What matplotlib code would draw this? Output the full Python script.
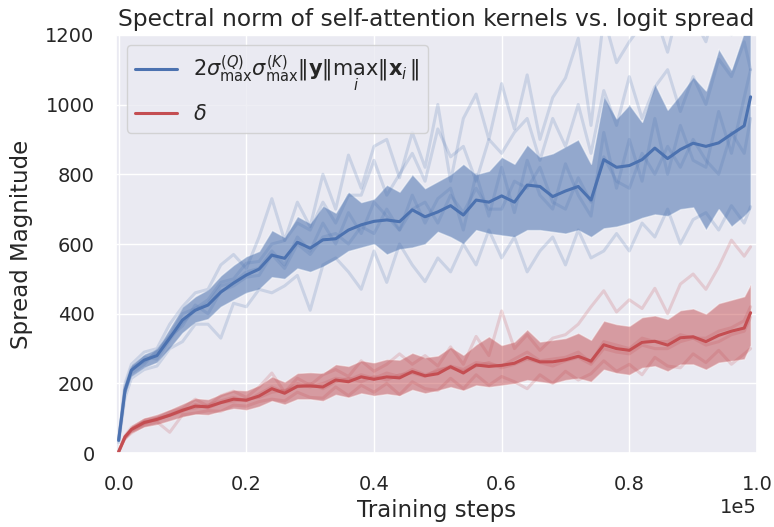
import numpy as np
import seaborn as sns
from matplotlib import pyplot as plt

# training steps (thousands)
steps_k = [0, 1, 2, 4, 6, 8, 10, 12, 14, 16, 18, 20, 22, 24, 26, 28, 30, 32, 34, 36,
           38, 40, 42, 44, 46, 48, 50, 52, 54, 56, 58, 60, 62, 64, 66, 68, 70, 72, 74,
           76, 78, 80, 82, 84, 86, 88, 90, 92, 94, 96, 98, 99]

# bound 2 sigma_Q sigma_K |y| max|x_i|  (mean, band, single runs)
bound_mean = [37, 181, 238, 267, 280, 330, 382, 410, 425, 462, 488, 511, 528, 568, 559, 605,
              588, 612, 615, 640, 655, 665, 669, 664, 698, 678, 692, 710, 683, 726, 720, 738,
              720, 769, 765, 736, 752, 765, 726, 842, 820, 825, 842, 875, 845, 871, 889, 880,
              890, 915, 939, 1022]
bound_low = [30, 165, 220, 245, 260, 300, 345, 375, 385, 420, 440, 460, 470, 505, 500, 530,
             520, 535, 555, 580, 590, 600, 570, 585, 590, 600, 635, 620, 600, 640, 630, 625,
             620, 640, 640, 635, 630, 640, 620, 645, 650, 660, 675, 685, 680, 700, 705, 640,
             700, 650, 680, 700]
bound_high = [45, 200, 255, 285, 300, 360, 420, 450, 470, 510, 540, 565, 580, 640, 620, 680,
              660, 710, 690, 750, 720, 730, 770, 750, 800, 760, 780, 800, 830, 800, 810, 850,
              830, 885, 850, 860, 880, 900, 830, 1025, 960, 1000, 950, 1060, 985, 1030, 1080,
              1040, 1160, 1100, 1210, 1250]
bound_runs = [
    [40, 200, 255, 290, 300, 370, 420, 460, 470, 540, 570, 530, 620, 730, 610, 720, 650, 800,
     700, 855, 760, 880, 900, 790, 920, 820, 1000, 780, 960, 1030, 900, 1060, 930, 1085, 900,
     1020, 1076, 1190, 940, 1250, 1120, 1180, 1230, 1260, 1150, 1300, 1250, 1180, 1320, 1200,
     1300, 1320],
    [35, 175, 230, 255, 295, 335, 400, 415, 440, 490, 500, 545, 550, 600, 610, 660, 640, 720,
     660, 740, 740, 840, 740, 800, 860, 780, 930, 850, 880, 780, 900, 860, 920, 960, 840, 960,
     880, 1000, 860, 1040, 940, 1080, 960, 1050, 1100, 980, 1080, 1000, 1130, 1080, 1180, 1100],
    [30, 160, 215, 240, 250, 300, 320, 370, 370, 330, 430, 420, 470, 460, 480, 510, 410, 540,
     560, 520, 470, 580, 490, 600, 540, 492, 560, 520, 600, 540, 640, 560, 620, 520, 580, 620,
     540, 640, 560, 580, 630, 580, 660, 620, 700, 600, 670, 690, 640, 710, 660, 707],
    [36, 185, 240, 275, 270, 325, 375, 410, 430, 480, 490, 520, 530, 580, 540, 620, 580, 660,
     600, 690, 630, 720, 680, 640, 740, 660, 730, 760, 640, 800, 680, 820, 690, 840, 740, 700,
     830, 740, 680, 920, 760, 900, 780, 960, 800, 940, 840, 820, 980, 860, 1020, 1100],
    [38, 190, 245, 262, 290, 335, 365, 425, 400, 465, 480, 505, 510, 570, 530, 600, 570, 620,
     630, 600, 650, 630, 700, 640, 700, 720, 660, 740, 690, 760, 700, 700, 780, 760, 820, 720,
     700, 790, 720, 850, 780, 760, 860, 800, 880, 820, 900, 840, 800, 920, 860, 960],
]

# delta (logit spread)
delta_mean = [4, 47, 68, 88, 97, 109, 123, 135, 133, 145, 155, 152, 164, 185, 172, 192, 193,
              190, 210, 205, 219, 212, 219, 216, 234, 222, 228, 248, 230, 253, 249, 252, 258,
              275, 262, 262, 268, 278, 264, 311, 300, 295, 318, 321, 310, 331, 334, 320, 338,
              350, 359, 403]
delta_low = [2, 38, 58, 75, 82, 93, 104, 112, 110, 120, 128, 124, 134, 150, 140, 155, 155, 150,
             168, 160, 172, 165, 170, 165, 182, 172, 180, 190, 180, 195, 190, 195, 200, 210, 205,
             200, 210, 215, 205, 240, 230, 225, 245, 250, 235, 255, 255, 240, 260, 265, 270, 310]
delta_high = [6, 55, 80, 102, 112, 126, 142, 158, 155, 170, 182, 180, 195, 220, 205, 230, 232,
              230, 255, 250, 266, 260, 270, 268, 288, 275, 280, 305, 282, 312, 335, 310, 320,
              355, 320, 325, 330, 345, 325, 380, 370, 365, 390, 395, 385, 410, 415, 400, 430,
              440, 450, 485]
delta_runs = [
    [5, 50, 74, 95, 100, 118, 128, 155, 135, 165, 178, 160, 190, 230, 175, 215, 195, 225, 240,
     220, 265, 235, 255, 285, 255, 280, 250, 305, 255, 335, 280, 408, 300, 340, 295, 330, 340,
     370, 420, 466, 405, 440, 415, 473, 400, 485, 514, 470, 534, 611, 565, 592],
    [3, 42, 58, 80, 90, 60, 110, 115, 122, 120, 138, 135, 148, 155, 150, 175, 160, 158, 190,
     165, 195, 175, 200, 168, 205, 185, 180, 215, 185, 225, 195, 220, 205, 185, 225, 200, 235,
     210, 228, 265, 235, 255, 225, 275, 250, 245, 285, 260, 295, 255, 285, 300],
    [4, 48, 70, 90, 95, 110, 125, 130, 138, 150, 160, 150, 170, 190, 175, 200, 190, 200, 215,
     210, 225, 215, 230, 220, 240, 225, 235, 250, 240, 260, 255, 250, 270, 290, 265, 270, 275,
     290, 260, 320, 310, 300, 330, 320, 320, 340, 330, 330, 350, 360, 380, 420],
    [4, 46, 66, 85, 100, 108, 120, 140, 130, 145, 150, 155, 160, 175, 180, 190, 200, 185, 205,
     215, 205, 220, 210, 225, 230, 220, 240, 245, 235, 250, 260, 245, 255, 270, 260, 250, 265,
     275, 255, 300, 290, 285, 310, 300, 300, 320, 330, 310, 320, 340, 350, 390],
]

blue = '#4C72B0'
red = '#C44E52'

sns.set_theme(style='darkgrid')
plt.rcParams['font.family'] = ['DejaVu Sans']

steps = np.array(steps_k) * 1000

fig = plt.figure(figsize=(7.74, 5.27), dpi=100)
ax = fig.add_axes([0.150, 0.140, 0.828, 0.794])

for run in bound_runs:
    ax.plot(steps, run, color=blue, alpha=0.2, lw=2.2)
ax.fill_between(steps, bound_low, bound_high, facecolor=(0.298, 0.447, 0.690, 0.55),
                edgecolor=(1, 1, 1, 0.5), lw=1)
ax.plot(steps, bound_mean, color=blue, lw=2.2,
        label=r'$2\sigma_{\max}^{(Q)}\sigma_{\max}^{(K)}\|\mathbf{y}\|\max_i\|\mathbf{x}_i\|$')

for run in delta_runs:
    ax.plot(steps, run, color=red, alpha=0.2, lw=2.2)
ax.fill_between(steps, delta_low, delta_high, facecolor=(0.769, 0.306, 0.322, 0.5),
                edgecolor=(1, 1, 1, 0.4), lw=1)
ax.plot(steps, delta_mean, color=red, lw=2.2, label=r'$\delta$')

ax.set_xlim(-400, 100000)
ax.set_ylim(0, 1200)
ax.ticklabel_format(axis='x', style='sci', scilimits=(0, 0))
ax.tick_params(labelsize=14, pad=9.5)
ax.xaxis.get_offset_text().set_fontsize(14)
ax.set_title('Spectral norm of self-attention kernels vs. logit spread', fontsize=16.8)
ax.set_xlabel('Training steps', fontsize=16.5)
ax.set_ylabel('Spread Magnitude', fontsize=16.5, labelpad=9)
ax.legend(loc='upper left', fontsize=15)

fig.savefig('out.png', dpi=100)
